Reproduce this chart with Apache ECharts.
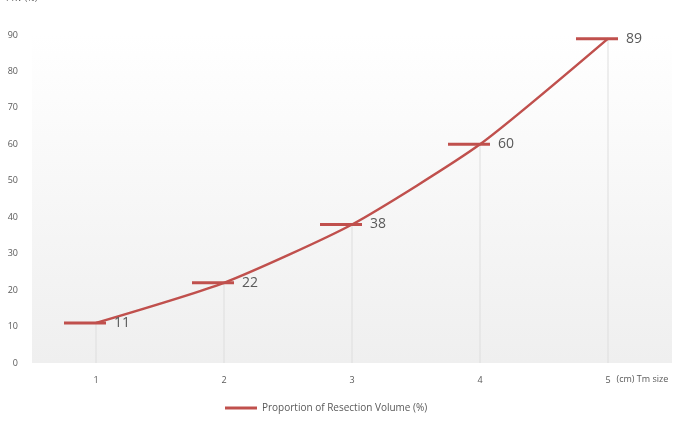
<!DOCTYPE html>
<html>
<head>
<meta charset="utf-8">
<script src="https://cdn.jsdelivr.net/npm/echarts@6/dist/echarts.min.js"></script>
<style>
html, body { margin: 0; padding: 0; background: #fff; }
#chart { width: 674px; height: 426px; }
</style>
</head>
<body>
<div id="chart"></div>
<script>
var sizes = ['1', '2', '3', '4', '5'];
var resection = [11, 22, 38, 60, 89];
var yTicks = [0, 10, 20, 30, 40, 50, 60, 70, 80, 90];

var chart = echarts.init(document.getElementById('chart'));
chart.setOption({
    animation: false,
    textStyle: { fontFamily: 'Open Sans, Liberation Sans, sans-serif' },
    grid: {
        left: 32, right: 2, top: 35, bottom: 63,
        outerBoundsMode: 'none',
        show: true, borderWidth: 0,
        backgroundColor: new echarts.graphic.LinearGradient(0, 0, 0, 1, [
            { offset: 0, color: '#ffffff' },
            { offset: 1, color: '#efefef' }
        ])
    },
    legend: {
        data: ['Proportion of Resection Volume (%)'],
        left: 220, bottom: 8,
        itemWidth: 32, itemHeight: 3, itemGap: 4,
        icon: 'rect',
        textStyle: { color: '#595959', fontSize: 10 }
    },
    xAxis: {
        type: 'category',
        data: sizes,
        name: '(cm) Tm size',
        nameLocation: 'end',
        nameGap: -60,
        nameTextStyle: { color: '#595959', fontSize: 9, align: 'left', verticalAlign: 'top', padding: [12, 0, 0, 0] },
        axisLine: { show: false },
        axisTick: { show: false },
        axisLabel: { color: '#595959', fontSize: 9, margin: 13 }
    },
    yAxis: {
        type: 'value',
        min: 0, max: 90, interval: 10,
        name: 'PRV (%)',
        nameGap: 32,
        nameTextStyle: { color: '#595959', fontSize: 9, align: 'left', padding: [0, 0, 0, -26] },
        axisLine: { show: false },
        axisTick: { show: false },
        splitLine: { show: false },
        axisLabel: {
            color: '#595959', fontSize: 9, margin: 14,
            formatter: function (v) { return yTicks.indexOf(v) >= 0 ? v : ''; }
        }
    },
    series: [{
        name: 'drop',
        type: 'bar',
        data: resection,
        barWidth: 1,
        silent: true,
        itemStyle: { color: '#dedede' }
    }, {
        name: 'Proportion of Resection Volume (%)',
        type: 'line',
        data: resection,
        smooth: 0.2,
        symbol: 'rect',
        symbolSize: [42, 3],
        symbolOffset: [-11, 0],
        lineStyle: { color: '#c0504d', width: 2.5 },
        itemStyle: { color: '#c0504d' },
        label: {
            show: true, position: 'right', distance: 8,
            color: '#595959', fontSize: 14
        },
        z: 3
    }]
});
</script>
</body>
</html>
